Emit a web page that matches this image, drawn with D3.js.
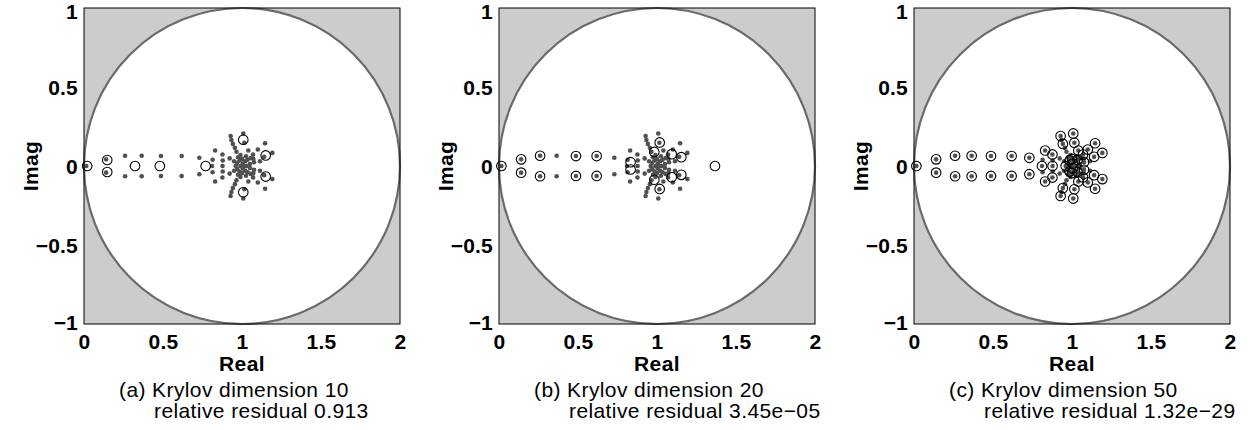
<!DOCTYPE html>
<html>
<head>
<meta charset="utf-8">
<script src="https://cdn.jsdelivr.net/npm/d3@7"></script>
<style>
  body { margin: 0; background: #fff; }
  text { font-family: "Liberation Sans", Arial, Helvetica, sans-serif; fill: #000; }
</style>
</head>
<body>
<svg id="fig" width="1254" height="430"></svg>
<script>
// Eigenvalues of the matrix, as [real, imag]
const eigenvalues = [
  [0.015, 0], [0.81, 0], [0.877, 0], [0.96, 0], [0.99, 0], [1.015, 0], [1.03, 0],
  [0.14, 0.042], [0.14, -0.042],
  [0.26, 0.065], [0.26, -0.065],
  [0.365, 0.065], [0.365, -0.065],
  [0.487, 0.063], [0.487, -0.063],
  [0.618, 0.063], [0.618, -0.063],
  [0.73, 0.052], [0.73, -0.052],
  [0.814, 0.04], [0.814, -0.04],
  [0.83, 0.098], [0.83, -0.098],
  [0.876, 0.073], [0.876, -0.073],
  [0.878, 0.035], [0.878, -0.035],
  [0.922, 0.048], [0.922, -0.048],
  [0.928, 0.19], [0.928, -0.19],
  [0.933, 0.165], [0.933, -0.165],
  [0.942, 0.14], [0.942, -0.14],
  [0.955, 0.115], [0.955, -0.115],
  [0.965, 0.09], [0.965, -0.09],
  [1.008, 0.206], [1.008, -0.206],
  [1.015, 0.147], [1.015, -0.147],
  [1.04, 0.098], [1.04, -0.098],
  [1.07, 0.072], [1.07, -0.072],
  [1.072, 0.045], [1.072, -0.045],
  [1.1, 0.104], [1.1, -0.104],
  [1.146, 0.144], [1.146, -0.144],
  [1.192, 0.083], [1.192, -0.083],
  [1.14, 0.058], [1.14, -0.058],
  [1.114, 0.03], [1.114, -0.03],
  [1.076, 0.024], [1.076, -0.024],
  [1.005, 0.015], [1.005, -0.015],
  [0.985, 0.035], [0.985, -0.035],
  [1.035, 0.04], [1.035, -0.04],
  [1.0, 0.045], [1.0, -0.045],
  [0.97, 0.02], [0.97, -0.02],
  [0.975, 0.055], [0.975, -0.055],
  [1.025, 0.062], [1.025, -0.062],
  [1.05, 0.012], [1.05, -0.012],
  [0.95, 0.03], [0.95, -0.03],
  [1.02, 0.03], [1.02, -0.03],
  [0.99, 0.07], [0.99, -0.07],
  [1.055, 0.05], [1.055, -0.05]
];

// Ritz values for Krylov dimension 10
const ritz10 = [
  [0.02, 0],
  [0.147, 0.038], [0.147, -0.038],
  [0.323, 0], [0.48, 0], [0.77, 0],
  [1.008, 0.166], [1.008, -0.166],
  [1.15, 0.067], [1.15, -0.067]
];

// Ritz values for Krylov dimension 20
const ritz20 = [
  [0.015, 0],
  [0.14, 0.042], [0.14, -0.042],
  [0.26, 0.065], [0.26, -0.065],
  [0.487, 0.063], [0.487, -0.063],
  [0.618, 0.063], [0.618, -0.063],
  [0.833, 0.024], [0.833, -0.022],
  [0.983, 0.089], [0.983, -0.087],
  [1.017, 0.149], [1.017, -0.145],
  [1.093, 0.075], [1.093, -0.071],
  [1.154, 0.056], [1.154, -0.056],
  [1.367, 0]
];

// Ritz values for Krylov dimension 50
const ritz50 = [
  [0.015, 0],
  [0.14, 0.042], [0.14, -0.042],
  [0.26, 0.065], [0.26, -0.065],
  [0.365, 0.065], [0.365, -0.065],
  [0.487, 0.063], [0.487, -0.063],
  [0.618, 0.063], [0.618, -0.063],
  [0.73, 0.052], [0.73, -0.052],
  [0.81, 0], [0.877, 0],
  [0.83, 0.098], [0.83, -0.098],
  [0.876, 0.073], [0.876, -0.073],
  [0.928, 0.19], [0.928, -0.19],
  [1.008, 0.206], [1.008, -0.206],
  [0.942, 0.14], [0.942, -0.14],
  [1.015, 0.147], [1.015, -0.147],
  [1.04, 0.098], [1.04, -0.098],
  [1.07, 0.072], [1.07, -0.072],
  [1.1, 0.104], [1.1, -0.104],
  [1.146, 0.144], [1.146, -0.144],
  [1.192, 0.083], [1.192, -0.083],
  [1.14, 0.058], [1.14, -0.058],
  [1.076, 0.024], [1.076, -0.024],
  [1.005, 0.015], [1.005, -0.015],
  [0.96, 0],
  [0.985, 0.035], [0.985, -0.035],
  [1.035, 0.04], [1.035, -0.04],
  [1.0, 0.045], [1.0, -0.045]
];

const ritzSets = [ritz10, ritz20, ritz50];
const panelTags = ["(a)", "(b)", "(c)"];
const krylovDims = [10, 20, 50];
const residuals = ["0.913", "3.45e\u221205", "1.32e\u221229"];
const xTicks = [0, 0.5, 1, 1.5, 2];
const yTicks = [1, 0.5, 0, -0.5, -1];

const svg = d3.select("#fig");
const plotSize = 316, plotTop = 8;
const plotLefts = [84, 499, 914];
const fmt = d3.format("~g");

ritzSets.forEach((ritz, i) => {
  const g = svg.append("g").attr("transform", `translate(${plotLefts[i]},${plotTop})`);
  const x = d3.scaleLinear().domain([0, 2]).range([0, plotSize]);
  const y = d3.scaleLinear().domain([-1, 1]).range([plotSize, 0]);

  // grey background with the unit circle centred at 1
  g.append("rect").attr("width", plotSize).attr("height", plotSize).attr("fill", "#cccccc");
  g.append("circle")
    .attr("cx", x(1)).attr("cy", y(0)).attr("r", x(1) - x(0))
    .attr("fill", "#fff").attr("stroke", "#6a6a6a").attr("stroke-width", 2.2);

  // eigenvalues
  g.append("g").selectAll("circle").data(eigenvalues).join("circle")
    .attr("cx", d => x(d[0])).attr("cy", d => y(d[1])).attr("r", 2.3)
    .attr("fill", "#505050");

  // Ritz values
  g.append("g").selectAll("circle").data(ritz).join("circle")
    .attr("cx", d => x(d[0])).attr("cy", d => y(d[1])).attr("r", 4.8)
    .attr("fill", "none").attr("stroke", "#000").attr("stroke-width", 1.1);

  g.append("rect").attr("width", plotSize).attr("height", plotSize)
    .attr("fill", "none").attr("stroke", "#000").attr("stroke-width", 1);

  // axes
  const xa = g.append("g").attr("transform", `translate(0,${plotSize})`)
    .call(d3.axisBottom(x).tickValues(xTicks).tickSize(0).tickPadding(10).tickFormat(fmt));
  const ya = g.append("g")
    .call(d3.axisLeft(y).tickValues(yTicks).tickSize(0).tickPadding(6).tickFormat(fmt));
  [xa, ya].forEach(a => {
    a.select(".domain").remove();
    a.selectAll("text").attr("font-size", 21).attr("font-weight", "bold")
      .attr("font-family", "Liberation Sans, Arial, sans-serif")
      .attr("letter-spacing", 0.2).attr("fill", "#000");
  });
  ya.selectAll("text").attr("dy", d => d === 1 ? "0.52em" : d === -1 ? "0.28em" : "0.38em");

  g.append("text").attr("x", plotSize / 2).attr("y", 363)
    .attr("text-anchor", "middle").attr("font-size", 21).attr("font-weight", "bold")
    .attr("letter-spacing", 0.4).text("Real");
  g.append("text")
    .attr("transform", `translate(-46,${plotSize / 2}) rotate(-90)`)
    .attr("text-anchor", "middle").attr("font-size", 21).attr("font-weight", "bold")
    .attr("letter-spacing", 0.4).text("Imag");

  // caption
  g.append("text").attr("x", plotSize / 2 - 123).attr("y", 389)
    .attr("font-size", 21).attr("letter-spacing", 0.4)
    .text(`${panelTags[i]} Krylov dimension ${krylovDims[i]}`);
  g.append("text").attr("x", plotSize / 2 - 88).attr("y", 410)
    .attr("font-size", 21).attr("letter-spacing", 0.4)
    .text(`relative residual ${residuals[i]}`);
});
</script>
</body>
</html>
